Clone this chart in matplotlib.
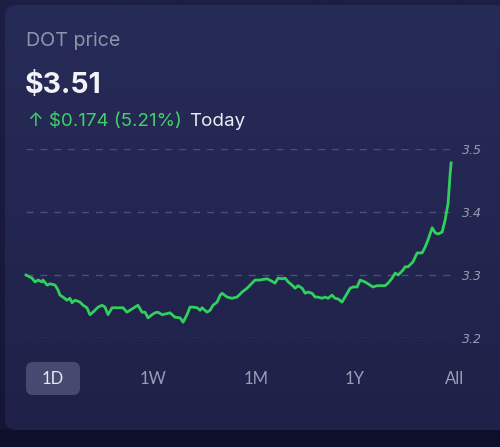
import numpy as np
import matplotlib.pyplot as plt
from matplotlib.patches import FancyBboxPatch

# DOT price over the day (hours since open, USD)
hours = [0.00, 0.34, 0.51, 0.68, 0.90, 0.96, 1.19, 1.36, 1.64, 1.81,
         1.92, 2.09, 2.31, 2.48, 2.60, 2.77, 3.05, 3.22, 3.44, 3.61,
         3.78, 4.07, 4.29, 4.46, 4.63, 4.86, 5.20, 5.48, 5.70, 5.87,
         6.15, 6.32, 6.55, 6.72, 6.89, 7.12, 7.28, 7.45, 7.68, 7.85,
         8.13, 8.41, 8.70, 8.87, 9.09, 9.26, 9.43, 9.66, 9.83, 9.94,
         10.22, 10.39, 10.56, 10.79, 10.96, 11.07, 11.35, 11.63, 11.92, 12.20,
         12.48, 12.76, 12.93, 13.21, 13.61, 13.89, 14.06, 14.23, 14.46, 14.63,
         14.80, 15.02, 15.19, 15.36, 15.59, 15.76, 15.92, 16.15, 16.32, 16.49,
         16.71, 16.88, 17.05, 17.28, 17.45, 17.62, 17.84, 18.01, 18.30, 18.47,
         18.69, 18.86, 19.14, 19.42, 19.59, 19.82, 20.27, 20.44, 20.67, 20.84,
         21.01, 21.29, 21.40, 21.57, 21.85, 22.08, 22.36, 22.53, 22.70, 22.93,
         23.10, 23.26, 23.49, 23.66, 23.83, 23.94, 24.00]
prices = [3.300, 3.295, 3.289, 3.292, 3.289, 3.292, 3.284, 3.286, 3.284, 3.276,
          3.268, 3.265, 3.260, 3.263, 3.256, 3.260, 3.257, 3.252, 3.248, 3.237,
          3.241, 3.249, 3.252, 3.249, 3.237, 3.248, 3.248, 3.248, 3.241, 3.244,
          3.249, 3.252, 3.241, 3.241, 3.232, 3.237, 3.240, 3.241, 3.237, 3.238,
          3.240, 3.233, 3.232, 3.225, 3.237, 3.249, 3.249, 3.248, 3.244, 3.248,
          3.241, 3.244, 3.252, 3.257, 3.268, 3.271, 3.265, 3.263, 3.265, 3.273,
          3.279, 3.287, 3.292, 3.292, 3.294, 3.290, 3.287, 3.295, 3.294, 3.295,
          3.289, 3.284, 3.279, 3.283, 3.279, 3.271, 3.273, 3.271, 3.265, 3.265,
          3.263, 3.265, 3.263, 3.268, 3.263, 3.262, 3.257, 3.265, 3.279, 3.281,
          3.281, 3.292, 3.289, 3.284, 3.281, 3.283, 3.283, 3.287, 3.295, 3.303,
          3.300, 3.308, 3.313, 3.313, 3.321, 3.335, 3.335, 3.344, 3.356, 3.375,
          3.367, 3.365, 3.368, 3.387, 3.414, 3.459, 3.478]
yticks = [3.2, 3.3, 3.4, 3.5]
ranges = ["1D", "1W", "1M", "1Y", "All"]

W, H = 500, 447
fig = plt.figure(figsize=(W / 100, H / 100), dpi=100)
fig.patch.set_facecolor("#0f102c")

# background + card (pixel coordinates)
bg = fig.add_axes([0, 0, 1, 1])
bg.set_xlim(0, W)
bg.set_ylim(H, 0)
bg.axis("off")
outer = np.linspace(0, 1, 256).reshape(-1, 1)
bg.imshow(outer, extent=[0, W, H, 0], aspect="auto",
          cmap=plt.matplotlib.colors.LinearSegmentedColormap.from_list(
              "o", ["#1d1f45", "#141536"]), zorder=0)
bg.axhspan(430, H, color="#0e0f2b", zorder=1)
card = FancyBboxPatch((5, 5), W + 20, 425, boxstyle="round,pad=0,rounding_size=12",
                      facecolor="none", edgecolor="none", zorder=2)
bg.add_patch(card)
grad = bg.imshow(outer, extent=[0, W, 430, 5], aspect="auto",
                 cmap=plt.matplotlib.colors.LinearSegmentedColormap.from_list(
                     "c", ["#272b58", "#1f2148"]), zorder=2)
grad.set_clip_path(card)

txt = ["Inter", "DejaVu Sans"]
bg.text(26, 41, "DOT price", color="#8f92ab", fontsize=14.2, family=txt,
        va="center", ha="left", zorder=5)
bg.text(25, 86, "$3.51", color="#f2f2f7", fontsize=20.5, fontweight="bold",
        family=txt, va="center", ha="left", zorder=5)
bg.text(28, 121, "\u2191 $0.174 (5.21%)", color="#3fd06c", fontsize=13.5,
        family=txt, va="center", ha="left", zorder=5)
bg.text(189, 121, "Today", color="#ececf3", fontsize=13.5, family=txt,
        va="center", ha="left", zorder=5)

# range selector
btn_x = [53, 153, 256, 355, 455]
bg.add_patch(FancyBboxPatch((26, 362), 54, 33, boxstyle="round,pad=0,rounding_size=7",
                            facecolor="#474a70", edgecolor="none", zorder=4))
for i, (lab, bx) in enumerate(zip(ranges, btn_x)):
    bg.text(bx, 379, lab, color="#e6e7f2" if i == 0 else "#9a9cb6",
            fontsize=12, family=["Lato", "DejaVu Sans"], ha="center",
            va="center", zorder=5)

# price chart
ax = fig.add_axes([26 / W, 1 - 338 / H, 426 / W, 189 / H])
ax.set_facecolor("none")
ax.plot(hours, prices, color="#30d05c", lw=2, solid_joinstyle="round",
        clip_on=False, zorder=3)
ax.set_xlim(0, 24.05)
ax.set_ylim(3.2, 3.5)
ax.set_yticks(yticks)
ax.set_yticklabels([f"{v:.1f}" for v in yticks])
ax.yaxis.tick_right()
ax.tick_params(axis="y", length=0, pad=7, labelsize=9, labelcolor="#9a9cb6")
ax.tick_params(axis="x", length=0, labelbottom=False)
ax.grid(axis="y", color="#4c4f74", lw=1, linestyle=(0, (5, 5)))
ax.grid(axis="x", visible=False)
for s in ax.spines.values():
    s.set_visible(False)
for t in ax.get_yticklabels():
    t.set_fontstyle("italic")

fig.savefig("out.png", dpi=100, facecolor=fig.get_facecolor())
